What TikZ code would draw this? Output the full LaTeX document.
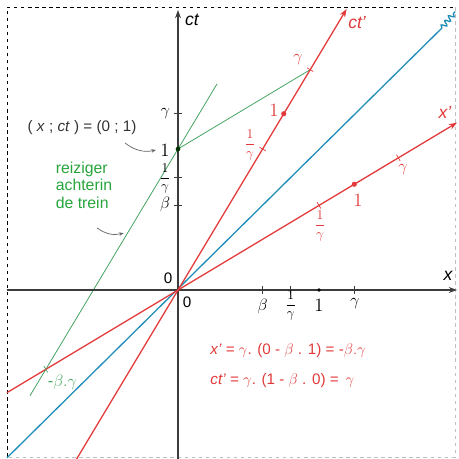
\documentclass[tikz,border=0pt]{standalone}
\usepackage{fix-cm}
\usepackage{fontspec}
\setmainfont{Liberation Sans}
\usetikzlibrary{arrows.meta,decorations.pathmorphing,calc}
\definecolor{myred}{RGB}{226,58,58}
\definecolor{myblue}{RGB}{30,140,185}
\definecolor{mygreen}{RGB}{70,165,100}
\definecolor{txtgreen}{RGB}{40,165,60}
\definecolor{axiscol}{RGB}{60,60,60}
\newcommand{\invg}{$\displaystyle\frac{1}{\gamma}$}
\begin{document}
\begin{tikzpicture}[x=4.23cm,y=4.23cm,
  axisline/.style={draw=axiscol,line width=1.1pt},
  redline/.style={draw=myred,line width=1.1pt},
  blueline/.style={draw=myblue,line width=1.1pt},
  greenline/.style={draw=mygreen,line width=0.7pt},
  tickmark/.style={line width=0.6pt},
  lbl/.style={inner sep=1pt,font=\fontsize{13}{14}\selectfont},
  glbl/.style={inner sep=1pt,font=\fontsize{14}{15}\selectfont},
  onelbl/.style={inner sep=1pt,font=\fontsize{16}{17}\selectfont},
  frac/.style={inner sep=0pt,font=\fontsize{11.5}{12}\selectfont},
  redlbl/.style={lbl,text=myred},
  note/.style={draw=axiscol!80,line width=0.6pt,-{Stealth[length=4pt,width=3pt]}},
  ]
\useasboundingbox (-1.2624,-1.1986) rectangle (1.9858,2.0567);
% frame
\draw[black!25,dashed,line width=0.5pt] (1.965,2.007) -- (1.965,-1.184) -- (-1.213,-1.184);
\draw[black,dashed,line width=0.5pt] (-1.213,-1.184) -- (-1.213,2.007) -- (1.965,2.007);

% coordinates
\coordinate (O) at (0,0);
\coordinate (xS) at (-1.213,0);
\coordinate (xE) at (1.979,0);
\coordinate (tS) at (0,-1.1986);
\coordinate (tE) at (0,1.986);
\coordinate (ctpS) at (-0.719,-1.1986);
\coordinate (ctpE) at (1.196,1.993);
\coordinate (xpS) at (-1.213,-0.728);
\coordinate (xpE) at (1.979,1.187);
\coordinate (lS) at (-1.213,-1.19);
\coordinate (lE) at (1.872,1.858);
\coordinate (lW) at (1.965,1.975);
\coordinate (gS) at (-1.05,-0.75);
\coordinate (gE) at (0.277,1.4617);
\coordinate (P01) at (0,1);
\coordinate (ctg) at (0.9375,1.5625);
\coordinate (ct1) at (0.75,1.25);
\coordinate (ctig) at (0.6,1.0);
\coordinate (xg) at (1.5625,0.9375);
\coordinate (x1) at (1.25,0.75);
\coordinate (xig) at (1.0,0.6);
\coordinate (mbg) at (-0.9375,-0.5625);

% light line
\draw[blueline] (lS) -- (lE);
\draw[blueline,decorate,decoration={snake,amplitude=2.2pt,segment length=5pt}] (lE) -- (lW);

% green lines
\draw[greenline] (gS) -- (gE);
\draw[greenline] (P01) -- (ctg);

% axes
\draw[axisline,-{Stealth[length=7pt,width=5pt]}] (xS) -- (xE);
\draw[axisline,-{Stealth[length=7pt,width=5pt]}] (tS) -- (tE);
\node[lbl,font=\fontsize{15}{16}\selectfont\itshape] (xlab) at (1.915,0.099) {x};
\node[lbl,font=\fontsize{15}{16}\selectfont\itshape] (ctlab) at (0.099,1.915) {ct};

% red axes
\draw[redline,-{Stealth[length=7pt,width=5pt]}] (ctpS) -- (ctpE);
\draw[redline,-{Stealth[length=7pt,width=5pt]}] (xpS) -- (xpE);
\node[redlbl,font=\fontsize{15}{16}\selectfont\itshape] (ctplab) at (1.27,1.90) {ct'};
\node[redlbl,font=\fontsize{15}{16}\selectfont\itshape] (xplab) at (1.894,1.262) {x'};

% ticks on ct axis
\foreach \v in {0.6,0.8,1.25}
  \draw[axisline,line width=0.7pt] (-0.03,\v) -- (0.03,\v);
\node[glbl] (tg) at (-0.09,1.25) {$\gamma$};
\node[onelbl] (t1) at (-0.092,0.99) {$1$};
\node[frac] (tig) at (-0.092,0.79) {\invg};
\node[glbl] (tb) at (-0.092,0.61) {$\beta$};

% ticks on x axis
\foreach \v in {0.6,0.8,1.25}
  \draw[axisline,line width=0.7pt] (\v,-0.03) -- (\v,0.03);
\fill[black] (1,0) circle (1.6pt);
\node[glbl] (xb) at (0.6,-0.115) {$\beta$};
\node[frac] (xig2) at (0.8,-0.11) {\invg};
\node[onelbl] (x1l) at (1.0,-0.11) {$1$};
\node[glbl] (xgl) at (1.255,-0.095) {$\gamma$};

% origin labels
\node[lbl] (o1) at (-0.07,0.085) {0};
\node[lbl] (o2) at (0.064,-0.085) {0};

% marks on ct'
\foreach \p in {ctg,ctig}
  \draw[myred,tickmark] ([shift={(-0.022,0.013)}]\p) -- ([shift={(0.022,-0.013)}]\p);
\fill[myred] (ct1) circle (2.2pt);
\node[onelbl,text=myred] (ct1l) at (0.681,1.272) {$1$};
\node[frac,text=myred] (ctigl) at (0.511,1.028) {\invg};
\node[glbl,text=myred] (ctgl) at (0.851,1.631) {$\gamma$};

% marks on x'
\foreach \p in {xg,xig}
  \draw[myred,tickmark] ([shift={(-0.013,0.022)}]\p) -- ([shift={(0.013,-0.022)}]\p);
\fill[myred] (x1) circle (2.2pt);
\node[onelbl,text=myred] (x1ll) at (1.277,0.638) {$1$};
\node[frac,text=myred] (xigl) at (1.007,0.455) {\invg};
\node[glbl,text=myred] (xgll) at (1.596,0.851) {$\gamma$};

% green point
\fill[black!80!green] (P01) circle (2pt);
\node[lbl,text=black!80,font=\fontsize{13}{15}\selectfont] (ev) at (-0.681,1.149) {( \textit{x} ; \textit{ct} ) = (0 ; 1)};
\coordinate (evA) at (-0.376,1.043);
\coordinate (evB) at (-0.156,0.993);
\draw[note] (evA) to[bend right=25] (evB);

% traveller
\node[lbl,text=txtgreen,align=left,font=\fontsize{13.5}{15}\selectfont] (trav) at (-0.667,0.745) {reiziger\\achterin\\de trein};
\coordinate (trA) at (-0.574,0.44);
\coordinate (trB) at (-0.385,0.404);
\draw[note] (trA) to[bend right=25] (trB);

% -beta gamma mark
\draw[mygreen,tickmark] ([shift={(-0.013,0.022)}]mbg) -- ([shift={(0.013,-0.022)}]mbg);
\node[glbl,text=mygreen] (mbgl) at (-0.82,-0.652) {-$\beta.\gamma$};

% formulas
\node[redlbl,anchor=west,font=\fontsize{13}{15}\selectfont] (f1) at (0.22,-0.426) {\textit{x'} = $\gamma$. (0 - $\beta$ . 1) = -$\beta.\gamma$};
\node[redlbl,anchor=west,font=\fontsize{13}{15}\selectfont] (f2) at (0.22,-0.645) {\textit{ct'} = $\gamma$. (1 - $\beta$ . 0) = \,$\gamma$};
\end{tikzpicture}
\end{document}
